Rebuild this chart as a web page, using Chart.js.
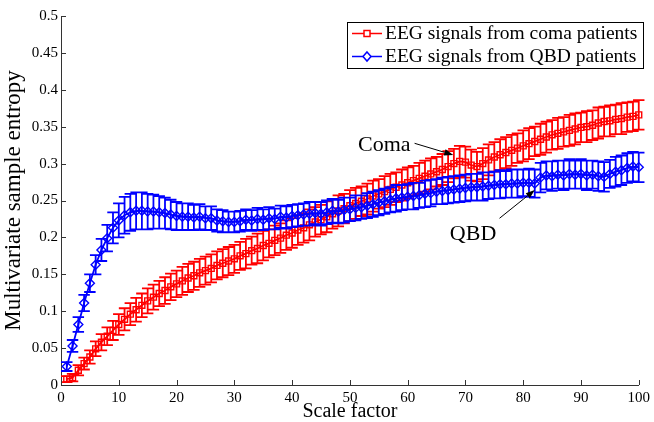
<!DOCTYPE html>
<html>
<head>
<meta charset="utf-8">
<script src="https://cdn.jsdelivr.net/npm/chart.js@4.4.1/dist/chart.umd.min.js"></script>
<style>
html,body{margin:0;padding:0;background:#fff;}
#wrap{width:654px;height:422px;position:relative;}
</style>
</head>
<body>
<div id="wrap"><canvas id="c" width="654" height="422"></canvas></div>
<script>
const scaleFactors = [1,2,3,4,5,6,7,8,9,10,11,12,13,14,15,16,17,18,19,20,21,22,23,24,25,26,27,28,29,30,31,32,33,34,35,36,37,38,39,40,41,42,43,44,45,46,47,48,49,50,51,52,53,54,55,56,57,58,59,60,61,62,63,64,65,66,67,68,69,70,71,72,73,74,75,76,77,78,79,80,81,82,83,84,85,86,87,88,89,90,91,92,93,94,95,96,97,98,99,100];

const comaMean = [0.008,0.010,0.020,0.029,0.038,0.049,0.058,0.066,0.074,0.082,
0.089,0.096,0.102,0.108,0.114,0.119,0.124,0.128,0.133,0.137,
0.141,0.145,0.148,0.152,0.155,0.158,0.162,0.165,0.168,0.171,
0.175,0.178,0.182,0.185,0.189,0.192,0.196,0.199,0.203,0.206,
0.210,0.213,0.217,0.221,0.224,0.228,0.232,0.236,0.239,0.243,
0.246,0.249,0.252,0.256,0.259,0.262,0.265,0.268,0.271,0.274,
0.277,0.280,0.283,0.286,0.289,0.292,0.296,0.300,0.303,0.302,
0.298,0.296,0.300,0.305,0.309,0.312,0.315,0.318,0.321,0.324,
0.327,0.330,0.333,0.336,0.339,0.341,0.343,0.345,0.347,0.349,
0.350,0.352,0.355,0.357,0.358,0.360,0.361,0.363,0.364,0.366];

const comaErr = [0.004,0.005,0.007,0.008,0.009,0.010,0.011,0.012,0.013,0.014,
0.015,0.015,0.016,0.016,0.017,0.017,0.017,0.018,0.018,0.018,
0.019,0.019,0.019,0.019,0.019,0.019,0.019,0.019,0.019,0.019,
0.019,0.020,0.019,0.020,0.020,0.019,0.020,0.020,0.020,0.020,
0.020,0.020,0.021,0.020,0.020,0.021,0.020,0.021,0.020,0.021,
0.021,0.020,0.021,0.021,0.020,0.021,0.021,0.020,0.021,0.021,
0.020,0.021,0.021,0.021,0.020,0.021,0.021,0.020,0.021,0.021,
0.021,0.020,0.021,0.021,0.020,0.021,0.021,0.021,0.020,0.021,
0.021,0.020,0.021,0.021,0.020,0.021,0.020,0.021,0.021,0.020,
0.021,0.020,0.021,0.020,0.021,0.020,0.021,0.020,0.020,0.020];

const qbdMean = [0.025,0.053,0.082,0.111,0.138,0.163,0.183,0.199,0.213,0.223,
0.230,0.234,0.236,0.236,0.235,0.235,0.234,0.233,0.231,0.229,
0.228,0.228,0.227,0.228,0.226,0.226,0.223,0.222,0.221,0.221,
0.222,0.224,0.223,0.225,0.224,0.226,0.225,0.228,0.227,0.229,
0.230,0.231,0.232,0.233,0.232,0.234,0.236,0.235,0.237,0.238,
0.240,0.241,0.243,0.245,0.247,0.249,0.251,0.253,0.254,0.255,
0.256,0.257,0.259,0.260,0.262,0.263,0.264,0.265,0.266,0.267,
0.268,0.268,0.269,0.270,0.271,0.272,0.272,0.273,0.273,0.274,
0.274,0.273,0.281,0.284,0.283,0.285,0.284,0.286,0.285,0.286,
0.284,0.285,0.283,0.282,0.286,0.289,0.291,0.294,0.296,0.295];

const qbdErr = [0.006,0.008,0.010,0.011,0.012,0.013,0.015,0.018,0.021,0.023,
0.025,0.025,0.025,0.025,0.024,0.023,0.022,0.021,0.020,0.019,
0.018,0.018,0.017,0.017,0.016,0.016,0.015,0.015,0.014,0.014,
0.014,0.014,0.014,0.015,0.014,0.015,0.014,0.015,0.015,0.015,
0.015,0.015,0.016,0.015,0.016,0.016,0.016,0.016,0.017,0.016,
0.017,0.016,0.017,0.017,0.017,0.017,0.017,0.018,0.017,0.017,
0.018,0.017,0.018,0.018,0.017,0.018,0.018,0.018,0.018,0.018,
0.018,0.018,0.019,0.018,0.018,0.019,0.018,0.019,0.019,0.018,
0.019,0.019,0.020,0.019,0.020,0.019,0.020,0.020,0.019,0.020,
0.020,0.019,0.020,0.020,0.019,0.020,0.020,0.020,0.020,0.020];

const seriesLabels = ['EEG signals from coma patients', 'EEG signals from QBD patients'];
const annotations = [
  {text: 'Coma', x: 51.4, y: 0.3164, from: [61.2, 0.3275], to: [67.9, 0.3117]},
  {text: 'QBD', x: 67.3, y: 0.1965, from: [75.9, 0.2259], to: [82.0, 0.2642]}
];

const SERIF = "'Liberation Serif', 'Times New Roman', serif";
const TEE = 0.99;

function pts(xs, ys){ return xs.map((x,i)=>({x:x, y:ys[i]})); }

const errorBars = {
  id: 'errorBars',
  beforeDatasetDraw(chart, args) {
    const ds = chart.data.datasets[args.index];
    if (!ds.errors) return;
    const xs = chart.scales.x, ys = chart.scales.y, ctx = chart.ctx;
    ctx.save();
    ctx.strokeStyle = ds.borderColor;
    ctx.lineWidth = 1.8;
    ctx.beginPath();
    ds.data.forEach((p, i) => {
      const e = ds.errors[i];
      const x = xs.getPixelForValue(p.x);
      const x0 = xs.getPixelForValue(p.x - TEE), x1 = xs.getPixelForValue(p.x + TEE);
      const yt = ys.getPixelForValue(p.y + e), yb = ys.getPixelForValue(p.y - e);
      ctx.moveTo(x, yt); ctx.lineTo(x, yb);
      ctx.moveTo(x0, yt); ctx.lineTo(x1, yt);
      ctx.moveTo(x0, yb); ctx.lineTo(x1, yb);
    });
    ctx.stroke();
    ctx.restore();
  }
};

const innerTicks = {
  id: 'innerTicks',
  afterDraw(chart) {
    const ctx = chart.ctx, xs = chart.scales.x, ys = chart.scales.y;
    const a = chart.chartArea;
    ctx.save();
    ctx.strokeStyle = '#333';
    ctx.lineWidth = 1;
    ctx.beginPath();
    xs.ticks.forEach(t => {
      const px = Math.round(xs.getPixelForValue(t.value)) + 0.5;
      ctx.moveTo(px, a.bottom); ctx.lineTo(px, a.bottom - 5);
    });
    ys.ticks.forEach(t => {
      const py = Math.round(ys.getPixelForValue(t.value)) + 0.5;
      ctx.moveTo(a.left, py); ctx.lineTo(a.left + 5, py);
    });
    ctx.stroke();
    ctx.restore();
  }
};

function arrow(ctx, x0, y0, x1, y1) {
  const ang = Math.atan2(y1 - y0, x1 - x0);
  const L = 9, W = 3.2;
  const bx = x1 - L * Math.cos(ang), by = y1 - L * Math.sin(ang);
  ctx.beginPath();
  ctx.moveTo(x0, y0); ctx.lineTo(bx, by);
  ctx.stroke();
  ctx.beginPath();
  ctx.moveTo(x1, y1);
  ctx.lineTo(bx + W * Math.sin(ang), by - W * Math.cos(ang));
  ctx.lineTo(bx - W * Math.sin(ang), by + W * Math.cos(ang));
  ctx.closePath();
  ctx.fill();
}

const overlay = {
  id: 'overlay',
  afterDraw(chart) {
    const ctx = chart.ctx, xs = chart.scales.x, ys = chart.scales.y;
    ctx.save();
    ctx.fillStyle = '#000'; ctx.strokeStyle = '#000'; ctx.lineWidth = 1;
    ctx.font = '22px ' + SERIF;
    ctx.textAlign = 'left'; ctx.textBaseline = 'alphabetic';
    annotations.forEach(an => {
      ctx.fillText(an.text, xs.getPixelForValue(an.x), ys.getPixelForValue(an.y));
      arrow(ctx, xs.getPixelForValue(an.from[0]), ys.getPixelForValue(an.from[1]),
                 xs.getPixelForValue(an.to[0]), ys.getPixelForValue(an.to[1]));
    });
    const bx = 347.5, by = 22.5, bw = 296, bh = 46;
    ctx.fillStyle = '#fff';
    ctx.fillRect(bx, by, bw, bh);
    ctx.strokeStyle = '#000'; ctx.lineWidth = 1;
    ctx.strokeRect(bx, by, bw, bh);
    const rows = [33.5, 56.5];
    chart.data.datasets.forEach((ds, i) => {
      const y = rows[i];
      ctx.strokeStyle = ds.borderColor; ctx.lineWidth = 1.5;
      ctx.beginPath(); ctx.moveTo(352, y); ctx.lineTo(382, y); ctx.stroke();
      ctx.beginPath();
      if (ds.pointStyle === 'rect') {
        ctx.rect(364, y - 3, 6, 6);
      } else {
        ctx.moveTo(367, y - 4.5); ctx.lineTo(371, y); ctx.lineTo(367, y + 4.5); ctx.lineTo(363, y); ctx.closePath();
      }
      ctx.fillStyle = '#fff'; ctx.fill(); ctx.stroke();
      ctx.fillStyle = '#000';
      ctx.font = '19.5px ' + SERIF;
      ctx.textBaseline = 'middle';
      ctx.fillText(ds.label, 385, y + 0.5);
    });
    ctx.restore();
  }
};

new Chart(document.getElementById('c'), {
  type: 'line',
  data: {
    datasets: [
      {
        label: seriesLabels[0],
        data: pts(scaleFactors, comaMean),
        errors: comaErr,
        borderColor: '#ff0000',
        backgroundColor: 'rgba(0,0,0,0)',
        borderWidth: 1.8,
        pointStyle: 'rect',
        pointRadius: 4.2,
        pointBorderWidth: 1.4,
        pointBorderColor: '#ff0000',
        pointBackgroundColor: 'rgba(0,0,0,0)',
        tension: 0,
        clip: false,
        order: 2
      },
      {
        label: seriesLabels[1],
        data: pts(scaleFactors, qbdMean),
        errors: qbdErr,
        borderColor: '#0000ff',
        backgroundColor: 'rgba(0,0,0,0)',
        borderWidth: 1.8,
        pointStyle: 'rectRot',
        pointRadius: 4.5,
        pointBorderWidth: 1.4,
        pointBorderColor: '#0000ff',
        pointBackgroundColor: 'rgba(0,0,0,0)',
        tension: 0,
        clip: false,
        order: 1
      }
    ]
  },
  options: {
    responsive: false,
    animation: false,
    events: [],
    layout: { padding: { top: 16, right: 13, left: 0, bottom: 0 } },
    plugins: { legend: { display: false }, tooltip: { enabled: false } },
    scales: {
      x: {
        type: 'linear',
        min: 0, max: 100,
        afterFit: s => { s.height = 37; },
        grid: { display: false, drawTicks: false },
        border: { display: true, color: '#333', width: 1 },
        ticks: { stepSize: 10, padding: 4, color: '#000', font: { family: SERIF, size: 15 }, maxRotation: 0 },
        title: { display: true, text: 'Scale factor', color: '#000', font: { family: SERIF, size: 20, lineHeight: 1 }, padding: { top: 0, bottom: 0 } }
      },
      y: {
        type: 'linear',
        min: 0, max: 0.5,
        afterFit: s => { s.width = 61; },
        grid: { display: false, drawTicks: false },
        border: { display: true, color: '#333', width: 1 },
        ticks: {
          stepSize: 0.05, padding: 3, color: '#000', font: { family: SERIF, size: 15 },
          callback: v => String(Math.round(v * 100) / 100)
        },
        title: { display: true, text: 'Multivariate sample entropy', color: '#000', font: { family: SERIF, size: 23, lineHeight: 1 }, padding: { top: 2, bottom: 0 } }
      }
    }
  },
  plugins: [errorBars, innerTicks, overlay]
});
</script>
</body>
</html>
